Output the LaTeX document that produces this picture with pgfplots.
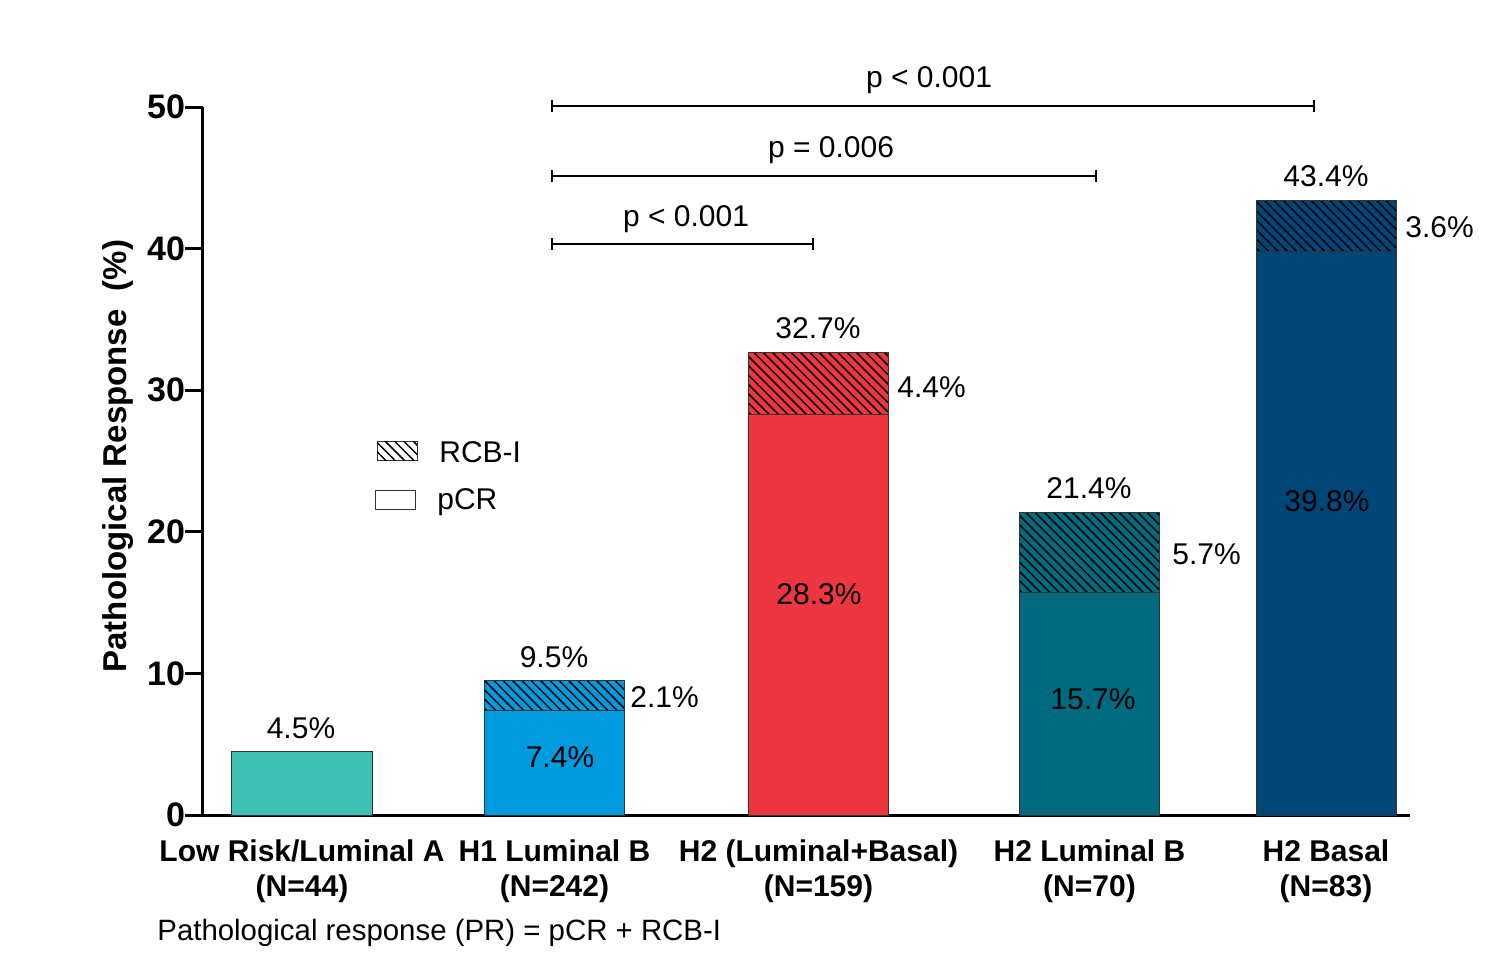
\documentclass[border=0pt]{standalone}
\usepackage{fontspec}
\setmainfont{Liberation Sans}
\usepackage{pgfplots}
\pgfplotsset{compat=1.18}
\usetikzlibrary{patterns.meta}
\definecolor{c1}{RGB}{64,191,181}
\definecolor{c2}{RGB}{0,155,222}
\definecolor{c3}{RGB}{238,54,65}
\definecolor{c4}{RGB}{0,107,127}
\definecolor{c5}{RGB}{0,70,119}
\newcommand{\lbl}{\fontsize{15}{17.5}\selectfont}
\tikzset{hatch/.style={postaction={pattern={Lines[angle=-45,distance=3.3pt,line width=0.75pt]},pattern color=black}}}
\begin{document}
\begin{tikzpicture}
\begin{axis}[
 scale only axis, width=603.5pt, height=354pt,
 xmin=2.03, xmax=14.10, ymin=0, ymax=50,
 axis x line=bottom, axis y line=left,
 axis line style={-, line width=1.5pt},
 every outer x axis line/.append style={-},
 every outer y axis line/.append style={-},
 clip=false,
 xtick={3.02,5.545,8.185,10.895,13.26},
 xticklabels={{Low Risk/Luminal A\\(N=44)},{H1 Luminal B\\(N=242)},{H2 (Luminal+Basal)\\(N=159)},{H2 Luminal B\\(N=70)},{H2 Basal\\(N=83)}},
 xticklabel style={font=\bfseries\lbl, align=center},
 x tick style={draw=none},
 ytick={0,10,...,50},
 yticklabel style={font=\bfseries\fontsize{17}{20}\selectfont, xshift=3.5pt},
 y tick style={line width=1.5pt, black},
 tick align=outside, major tick length=9pt,
 ylabel={Pathological Response\ \ (\%)},
 ylabel style={font=\bfseries\fontsize{16.5}{20}\selectfont, at={(axis description cs:-0.0704,0.507)}, anchor=center},
 /pgf/number format/assume math mode=true,
]
\path (axis cs:0,-9.675) rectangle (axis cs:14.93,57.56);
% bars: totals (hatched) first, then pCR on top
\addplot[ybar, bar width=1.4, bar shift=0pt, fill=c1, draw=black!80, line width=0.5pt] coordinates {(3.02,4.5)};
\addplot[ybar, bar width=1.4, bar shift=0pt, fill=c2, draw=black!80, line width=0.5pt, hatch] coordinates {(5.545,9.5)};
\addplot[ybar, bar width=1.4, bar shift=0pt, fill=c2, draw=black!80, line width=0.5pt] coordinates {(5.545,7.4)};
\addplot[ybar, bar width=1.4, bar shift=0pt, fill=c3, draw=black!80, line width=0.5pt, hatch] coordinates {(8.185,32.7)};
\addplot[ybar, bar width=1.4, bar shift=0pt, fill=c3, draw=black!80, line width=0.5pt] coordinates {(8.185,28.3)};
\addplot[ybar, bar width=1.4, bar shift=0pt, fill=c4, draw=black!80, line width=0.5pt, hatch] coordinates {(10.895,21.4)};
\addplot[ybar, bar width=1.4, bar shift=0pt, fill=c4, draw=black!80, line width=0.5pt] coordinates {(10.895,15.7)};
\addplot[ybar, bar width=1.4, bar shift=0pt, fill=c5, draw=black!80, line width=0.5pt, hatch] coordinates {(13.26,43.4)};
\addplot[ybar, bar width=1.4, bar shift=0pt, fill=c5, draw=black!80, line width=0.5pt] coordinates {(13.26,39.8)};
% value labels
\node[font=\lbl] at (axis cs:3.01,6.14) {4.5\%};
\node[font=\lbl] at (axis cs:5.54,11.16) {9.5\%};
\node[font=\lbl] at (axis cs:5.60,4.10) {7.4\%};
\node[font=\lbl, anchor=west, inner sep=0pt] at (axis cs:6.30,8.33) {2.1\%};
\node[font=\lbl] at (axis cs:8.18,34.39) {32.7\%};
\node[font=\lbl] at (axis cs:8.19,15.60) {28.3\%};
\node[font=\lbl, anchor=west, inner sep=0pt] at (axis cs:8.97,30.23) {4.4\%};
\node[font=\lbl] at (axis cs:10.89,23.09) {21.4\%};
\node[font=\lbl] at (axis cs:10.93,8.19) {15.7\%};
\node[font=\lbl, anchor=west, inner sep=0pt] at (axis cs:11.72,18.43) {5.7\%};
\node[font=\lbl] at (axis cs:13.26,45.13) {43.4\%};
\node[font=\lbl] at (axis cs:13.27,22.18) {39.8\%};
\node[font=\lbl, anchor=west, inner sep=0pt] at (axis cs:14.05,41.53) {3.6\%};
% significance brackets
\draw[line width=1pt] (axis cs:5.52,50.49) -- (axis cs:5.52,49.65) (axis cs:5.52,50.07) -- (axis cs:13.14,50.07) (axis cs:13.14,50.49) -- (axis cs:13.14,49.65);
\node[font=\lbl, anchor=base, inner sep=0pt] at (axis cs:9.29,51.41) {p < 0.001};
\draw[line width=1pt] (axis cs:5.52,45.55) -- (axis cs:5.52,44.71) (axis cs:5.52,45.13) -- (axis cs:10.96,45.13) (axis cs:10.96,45.55) -- (axis cs:10.96,44.71);
\node[font=\lbl, anchor=base, inner sep=0pt] at (axis cs:8.31,46.47) {p = 0.006};
\draw[line width=1pt] (axis cs:5.52,40.74) -- (axis cs:5.52,39.90) (axis cs:5.52,40.32) -- (axis cs:8.13,40.32) (axis cs:8.13,40.74) -- (axis cs:8.13,39.90);
\node[font=\lbl, anchor=base, inner sep=0pt] at (axis cs:6.86,41.53) {p < 0.001};
% legend
\draw[draw=black!80, line width=0.5pt, fill=white, hatch] (axis cs:3.77,26.41) rectangle (axis cs:4.17,25.07);
\node[font=\lbl, anchor=base west, inner sep=0pt] at (axis cs:4.39,24.93) {RCB-I};
\draw[draw=black!80, line width=0.5pt, fill=white] (axis cs:3.75,22.95) rectangle (axis cs:4.15,21.61);
\node[font=\lbl, anchor=base west, inner sep=0pt] at (axis cs:4.37,21.61) {pCR};
% footnote
\node[font=\fontsize{14.7}{17}\selectfont, anchor=west, inner sep=0pt] at (axis cs:1.57,-8.33) {Pathological response (PR) = pCR + RCB-I};
\end{axis}
\end{tikzpicture}
\end{document}
